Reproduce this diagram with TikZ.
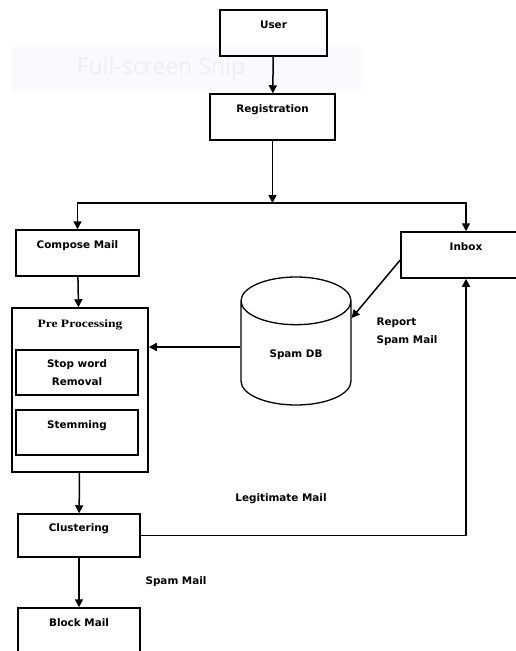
\documentclass[tikz,border=0pt]{standalone}
\usepackage{fontspec}
\setmainfont{DejaVu Sans}
\newfontfamily\titlefont[FakeStretch=1.2]{Liberation Serif}
\newfontfamily\snipfont{Open Sans}
\usepackage{xcolor}
\usetikzlibrary{shapes,arrows,positioning,calc,arrows.meta}
\definecolor{snipback}{HTML}{F8FAFD}
\definecolor{snipgray}{HTML}{ECEFF3}

\begin{document}
\begin{tikzpicture}[x=1pt, y=-1pt, >={Triangle[length=8pt,width=8pt]},
    box/.style={draw, rectangle, line width=1.5pt, align=center, font=\bfseries\fontsize{10.4}{18}\selectfont},
    head/.style={text height=7pt, text depth=16pt},
    tag/.style={font=\bfseries\fontsize{10.4}{18}\selectfont, align=left},
    flow/.style={->, line width=1.5pt}]
    \useasboundingbox (0,0) rectangle (515,651);
    \fill [white] (0,0) rectangle (515,651);
    \fill [snipback] (12,47) rectangle (361,91);
    \node [font=\snipfont\fontsize{23}{23}\selectfont, text=snipgray] (snip) at (161,69) {Full-screen Snip};

    \node [box, head, minimum width=107pt, minimum height=46pt] (user) at (273.5,33) {User};
    \node [box, head, minimum width=125pt, minimum height=46pt] (reg) at (272.5,117) {Registration};
    \coordinate (split) at (272.5,203);
    \node [box, head, minimum width=123pt, minimum height=46pt] (compose) at (77.5,253) {Compose Mail};
    \node [box, head, minimum width=130pt, minimum height=46pt] (inbox) at (466,255) {Inbox};

    \node [box, minimum width=136pt, minimum height=164pt, text height=9pt, text depth=135pt, font=\titlefont\bfseries\fontsize{11.3}{14}\selectfont] (pre) at (80,390) {Pre Processing};
    \node [box, minimum width=122pt, minimum height=45pt] (stop) at (77,372.5) {Stop word\\Removal};
    \node [box, head, minimum width=122pt, minimum height=45pt] (stem) at (77,432.5) {Stemming};

    \node [draw, cylinder, shape border rotate=90, aspect=0.8, minimum width=110pt, minimum height=128pt, line width=1.3pt, text height=0pt, text depth=0pt, anchor=shape center, font=\bfseries\fontsize{10.4}{18}\selectfont] (spamdb) at (296,341) {Spam DB};

    \node [box, head, minimum width=122pt, minimum height=43pt] (clus) at (79,535.5) {Clustering};
    \node [box, head, minimum width=122pt, minimum height=46pt] (block) at (79,631) {Block Mail};

    \draw [flow] (user) -- (reg);
    \draw [flow] (reg) -- (split);
    \draw [flow] (split) -| (compose);
    \draw [flow] (split) -| (inbox);
    \draw [flow] (compose) -- (pre);
    \draw [flow] ([yshift=-6pt]spamdb.shape center -| spamdb.west) -- ([yshift=-6pt]spamdb.shape center -| pre.east);
    \draw [flow] ([yshift=-5pt]inbox.west) -- ([yshift=23pt]spamdb.shape center -| spamdb.east);
    \node [tag, anchor=west] (report) at (373,332) {Report\\Spam Mail};
    \draw [flow] (pre) -- (clus);
    \draw [flow] (clus) -| (inbox);
    \node [tag] (legit) at (281,499) {Legitimate Mail};
    \draw [flow] (clus) -- (block);
    \node [tag] (spam) at (176,582) {Spam Mail};
\end{tikzpicture}
\end{document}
